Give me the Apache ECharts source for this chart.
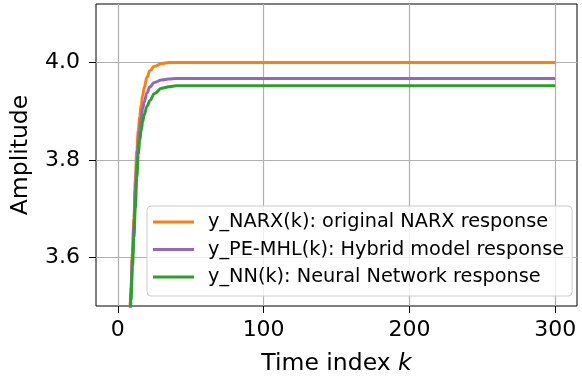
<!DOCTYPE html>
<html>
<head>
<meta charset="utf-8">
<script src="https://cdn.jsdelivr.net/npm/echarts@6/dist/echarts.min.js"></script>
<style>
html,body{margin:0;padding:0;background:#fff;}
#c{width:582px;height:381px;}
</style>
</head>
<body>
<div id="c"></div>
<script>
// Time index samples
const kIndex = [5, 6, 7, 8, 9, 10, 11, 12, 13, 14, 15, 16, 17, 18, 20, 22, 25, 30, 35, 40, 60, 100, 150, 200, 250, 300];
// y_NARX(k)
const yNARX = [3.0, 3.2, 3.35, 3.46, 3.54, 3.61, 3.68, 3.76, 3.82, 3.86, 3.89, 3.913, 3.932, 3.948, 3.970, 3.983, 3.992, 3.998, 4.0, 4.0, 4.0, 4.0, 4.0, 4.0, 4.0, 4.0];
// y_PE-MHL(k)
const yPEMHL = [2.98, 3.18, 3.33, 3.45, 3.53, 3.60, 3.665, 3.74, 3.795, 3.835, 3.865, 3.887, 3.905, 3.918, 3.938, 3.950, 3.959, 3.964, 3.966, 3.967, 3.967, 3.967, 3.967, 3.967, 3.967, 3.967];
// y_NN(k)
const yNN = [2.95, 3.15, 3.3, 3.43, 3.51, 3.58, 3.64, 3.70, 3.765, 3.81, 3.84, 3.86, 3.878, 3.892, 3.91, 3.922, 3.936, 3.947, 3.950, 3.952, 3.952, 3.952, 3.952, 3.952, 3.952, 3.952];
// Tick labels
const xTicks = [0, 100, 200, 300];
const yTicks = [3.6, 3.8, 4.0];
const seriesNames = [
  'y_NARX(k): original NARX response',
  'y_PE-MHL(k): Hybrid model response',
  'y_NN(k): Neural Network response'
];
const seriesColors = ['#ff7f0e', '#9467bd', '#2ca02c'];
const seriesValues = [yNARX, yPEMHL, yNN];

const font = 'DejaVu Sans';
const chart = echarts.init(document.getElementById('c'), null, {renderer: 'canvas'});
chart.setOption({
  animation: false,
  backgroundColor: '#ffffff',
  textStyle: {fontFamily: font},
  grid: {left: 96, right: 5, top: 4, bottom: 75, show: true, borderColor: '#000', borderWidth: 1, backgroundColor: 'transparent'},
  xAxis: {
    type: 'value', min: -15, max: 315,
    name: 'Time index {i|k}', nameLocation: 'middle', nameGap: 46,
    nameTextStyle: {fontSize: 23.5, color: '#000', fontFamily: font, rich: {i: {fontStyle: 'italic', fontSize: 23.5, fontFamily: font, color: '#000'}}},
    axisLine: {show: false, onZero: false},
    axisTick: {show: true, customValues: xTicks, length: 7, lineStyle: {color: '#000', width: 1}},
    axisLabel: {customValues: xTicks, margin: 13, fontSize: 22, color: '#000', fontFamily: font},
    splitLine: {show: true, customValues: xTicks, lineStyle: {color: '#b0b0b0', width: 1.2}}
  },
  yAxis: {
    type: 'value', min: 3.5, max: 4.12,
    name: 'Amplitude', nameLocation: 'middle', nameGap: 63, nameRotate: 90,
    nameTextStyle: {fontSize: 23.5, color: '#000', fontFamily: font},
    axisLine: {show: false, onZero: false},
    axisTick: {show: true, customValues: yTicks, length: 7, lineStyle: {color: '#000', width: 1}},
    axisLabel: {customValues: yTicks, margin: 16, fontSize: 22, color: '#000', fontFamily: font, formatter: v => Number(v).toFixed(1)},
    splitLine: {show: true, customValues: yTicks, lineStyle: {color: '#b0b0b0', width: 1.2}}
  },
  legend: {
    orient: 'vertical', left: 147, top: 206,
    data: seriesNames,
    icon: 'rect', itemWidth: 41, itemHeight: 3, itemGap: 5.5,
    padding: [5, 8, 8, 6],
    backgroundColor: 'rgba(255,255,255,0.8)', borderColor: '#cccccc', borderWidth: 1, borderRadius: 4,
    textStyle: {fontSize: 19.3, lineHeight: 22, color: '#000', fontFamily: font, padding: [0, 0, 0, 9]}
  },
  series: seriesNames.map((n, i) => ({
    name: n, type: 'line', showSymbol: false, symbol: 'none',
    smooth: 0.4, smoothMonotone: 'x', clip: true,
    lineStyle: {color: seriesColors[i], width: 3},
    itemStyle: {color: seriesColors[i]},
    data: kIndex.map((k, j) => [k, seriesValues[i][j]])
  }))
});
</script>
</body>
</html>
